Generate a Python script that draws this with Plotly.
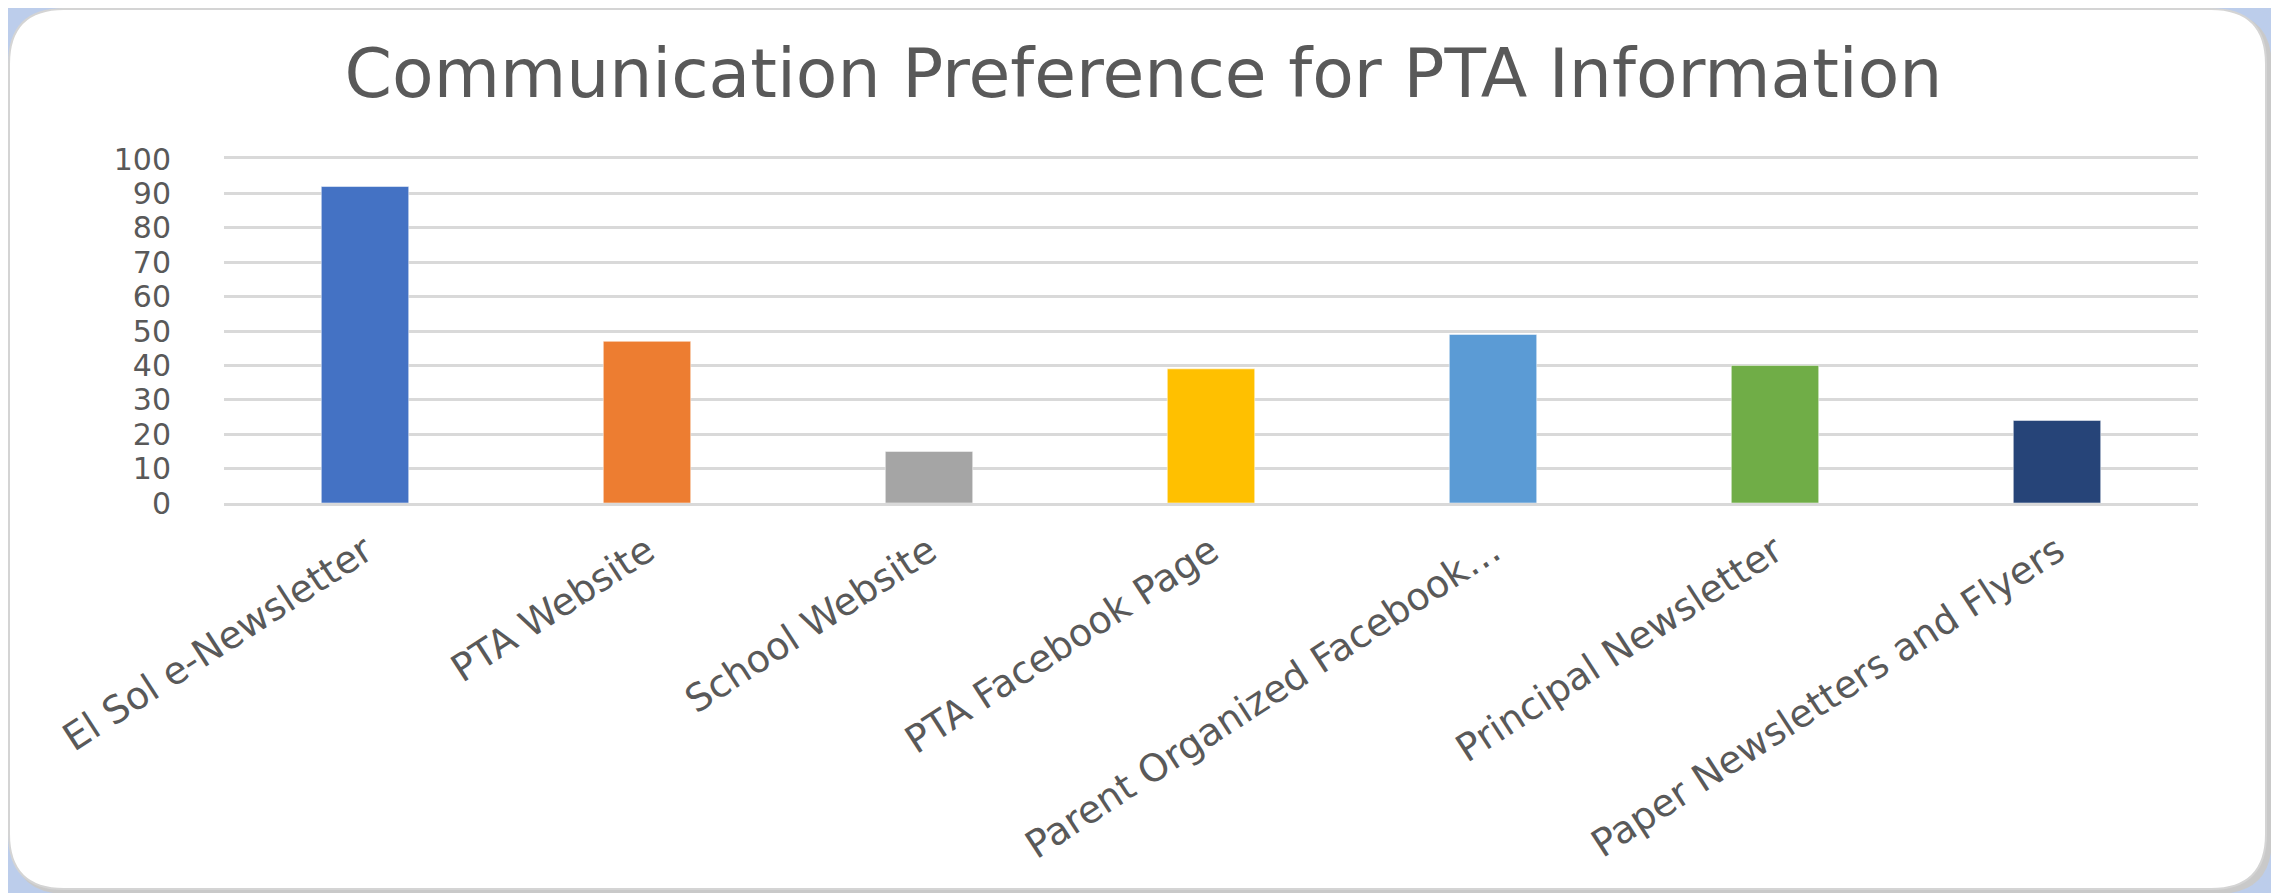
import plotly.graph_objects as go

channels = [
    "El Sol e-Newsletter",
    "PTA Website",
    "School Website",
    "PTA Facebook Page",
    "Parent Organized Facebook…",
    "Principal Newsletter",
    "Paper Newsletters and Flyers",
]
responses = [92, 47, 15, 39, 49, 40, 24]
bar_colors = ["#4472C4", "#ED7D31", "#A5A5A5", "#FFC000", "#5B9BD5", "#70AD47", "#264478"]
y_ticks = [0, 10, 20, 30, 40, 50, 60, 70, 80, 90, 100]

# the page body keeps its default 8px margin, so the figure is drawn from (8, 8)
OFF = 8
W, H = 2279 - OFF, 893 - OFF
ML, MR, MT, MB = 224 - OFF, 81, 159 - OFF, 390
PW, PH = W - ML - MR, H - MT - MB


def px_x(px):
    return (px - OFF - ML) / PW


def px_y(py):
    return (H - MB - (py - OFF)) / PH


def rounded_box(x0, y0, x1, y1, r):
    # page pixel coords (top-left origin) -> svg path in paper coords
    pts = [
        f"M {px_x(x0 + r)} {px_y(y0)}",
        f"L {px_x(x1 - r)} {px_y(y0)}",
        f"Q {px_x(x1)} {px_y(y0)} {px_x(x1)} {px_y(y0 + r)}",
        f"L {px_x(x1)} {px_y(y1 - r)}",
        f"Q {px_x(x1)} {px_y(y1)} {px_x(x1 - r)} {px_y(y1)}",
        f"L {px_x(x0 + r)} {px_y(y1)}",
        f"Q {px_x(x0)} {px_y(y1)} {px_x(x0)} {px_y(y1 - r)}",
        f"L {px_x(x0)} {px_y(y0 + r)}",
        f"Q {px_x(x0)} {px_y(y0)} {px_x(x0 + r)} {px_y(y0)}",
        "Z",
    ]
    return " ".join(pts)


fig = go.Figure(
    go.Bar(
        x=channels,
        y=responses,
        marker=dict(color=bar_colors, line=dict(color="rgba(255,255,255,0.5)", width=1)),
        hoverinfo="x+y",
    )
)

fig.update_layout(
    width=W,
    height=H,
    margin=dict(l=ML, r=MR, t=MT, b=MB),
    paper_bgcolor="#bccdeb",
    plot_bgcolor="white",
    bargap=0.69,
    showlegend=False,
    font=dict(family="DejaVu Sans", color="#595959"),
    title=dict(
        text="Communication Preference for PTA Information",
        x=0.5,
        xanchor="center",
        y=1 - (73 - OFF) / H,
        yanchor="middle",
        font=dict(size=68, color="#595959", family="DejaVu Sans"),
    ),
    shapes=[
        dict(type="path", xref="paper", yref="paper",
             path=rounded_box(12, 12, 2272, 894, 55),
             fillcolor="#c9c9c9", line_width=0, layer="below"),
        dict(type="path", xref="paper", yref="paper",
             path=rounded_box(9, 9, 2266, 889, 55),
             fillcolor="white", line=dict(color="#d4d4d4", width=2), layer="below"),
    ],
)

fig.update_xaxes(
    tickangle=-33,
    tickfont=dict(size=38, color="#595959"),
    showgrid=False,
    showline=True,
    mirror=True,
    linecolor="#d9d9d9",
    linewidth=3,
    ticks="",
    ticklabelstandoff=8,
    automargin=False,
)

fig.update_yaxes(
    range=[0, 100],
    tickvals=y_ticks,
    tickfont=dict(size=30, color="#595959"),
    showgrid=True,
    gridcolor="#d9d9d9",
    gridwidth=3,
    zeroline=False,
    showline=False,
    ticks="",
    ticklabelstandoff=52,
    automargin=False,
)

fig.write_html("out.html")
